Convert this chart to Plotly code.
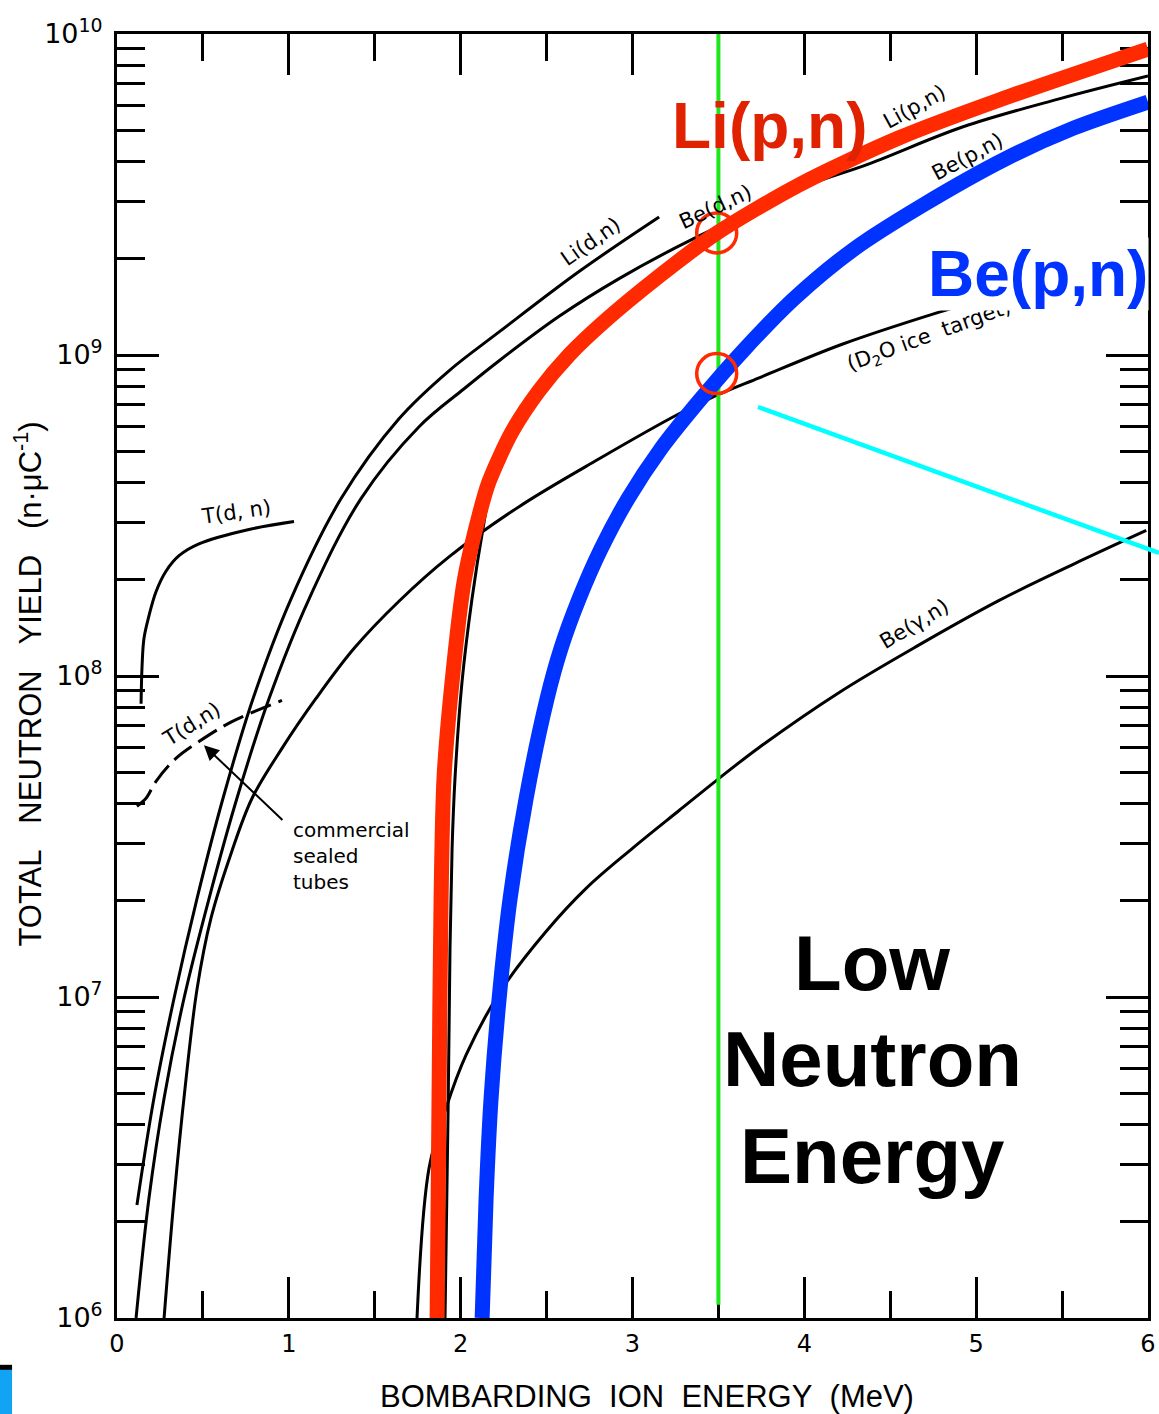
import plotly.graph_objects as go

# ---------------- data ----------------
# T(d,n) solid
E_tdn = [0.140, 0.146, 0.157, 0.186, 0.227, 0.285, 0.361, 0.477, 0.768, 1.030]
Y_tdn = [8.2e7, 1.08e8, 1.31e8, 1.54e8, 1.83e8, 2.12e8, 2.37e8, 2.58e8, 2.86e8, 3.03e8]

# T(d,n) commercial sealed tubes (dashed)
E_tube = [0.116, 0.169, 0.227, 0.343, 0.477, 0.669, 0.960]
Y_tube = [3.93e7, 4.16e7, 4.70e7, 5.54e7, 6.25e7, 7.21e7, 8.39e7]

# Li(d,n)
E_lidn = [0.116, 0.215, 0.332, 0.466, 0.617, 0.792, 1.013, 1.304, 1.641, 1.932, 2.224, 2.689, 3.155]
Y_lidn = [2.25e6, 4.84e6, 9.91e6, 2.03e7, 4.16e7, 8.51e7, 1.74e8, 3.57e8, 6.33e8, 8.93e8, 1.18e9, 1.82e9, 2.69e9]

# Be(d,n)
E_bedn = [0.111, 0.186, 0.274, 0.390, 0.536, 0.698, 0.885, 1.118, 1.420, 1.758, 2.020, 2.224, 2.573, 2.922, 3.353, 3.737]
Y_bedn = [1.0e6, 2.36e6, 4.84e6, 9.91e6, 2.03e7, 4.16e7, 8.51e7, 1.74e8, 3.57e8, 5.98e8, 7.85e8, 9.60e8, 1.32e9, 1.73e9, 2.30e9, 2.85e9]

# D(d,n) - D2O ice target
E_d2o = [0.274, 0.332, 0.396, 0.466, 0.547, 0.664, 0.786, 0.960, 1.158, 1.380, 1.641, 1.932, 2.340, 2.806, 3.271, 3.498, 3.737, 4.220, 4.785, 5.198]
Y_d2o = [1.0e6, 2.36e6, 5.20e6, 1.06e7, 1.76e7, 2.80e7, 4.16e7, 5.95e7, 8.51e7, 1.22e8, 1.71e8, 2.35e8, 3.37e8, 4.75e8, 6.56e8, 7.52e8, 8.49e8, 1.08e9, 1.36e9, 1.58e9]

# Li(p,n) original black curve
E_lipn = [1.909, 1.927, 1.938, 1.950, 1.967, 2.008, 2.066, 2.130, 2.183, 2.299, 2.456, 2.631, 2.835, 3.155, 3.487, 3.970, 4.377, 4.924, 5.483, 6.0]
Y_lipn = [1e6, 4.51e6, 1.42e7, 2.90e7, 4.80e7, 9.6e7, 1.74e8, 2.88e8, 4.03e8, 5.77e8, 7.74e8, 1.00e9, 1.27e9, 1.76e9, 2.39e9, 3.30e9, 3.94e9, 5.14e9, 6.28e9, 7.4e9]

# Be(gamma,n)
E_begn = [1.746, 1.816, 1.915, 2.031, 2.241, 2.497, 2.730, 2.998, 3.271, 3.504, 3.737, 4.203, 4.668, 5.134, 5.559, 5.99]
Y_begn = [1.0e6, 2.93e6, 4.51e6, 6.59e6, 1.06e7, 1.60e7, 2.18e7, 2.90e7, 3.81e7, 4.80e7, 5.99e7, 8.89e7, 1.25e8, 1.72e8, 2.22e8, 2.84e8]

# Highlighted Li(p,n) (red)
E_red = [1.863, 1.874, 1.886, 1.903, 1.950, 2.020, 2.107, 2.165, 2.299, 2.456, 2.631, 2.835, 3.155, 3.487, 3.970, 4.552, 5.134, 6.0]
Y_red = [1e6, 4.84e6, 2.03e7, 4.8e7, 9.6e7, 1.97e8, 3.16e8, 4.03e8, 5.77e8, 7.74e8, 1.00e9, 1.27e9, 1.76e9, 2.39e9, 3.39e9, 4.75e9, 6.23e9, 8.98e9]

# Highlighted Be(p,n) (blue)
E_blue = [2.125, 2.148, 2.177, 2.224, 2.288, 2.381, 2.503, 2.584, 2.689, 2.817, 2.974, 3.166, 3.399, 3.650, 3.941, 4.290, 4.680, 5.169, 5.570, 6.0]
Y_blue = [1e6, 2.36e6, 4.84e6, 9.91e6, 2.03e7, 4.16e7, 8.51e7, 1.22e8, 1.74e8, 2.49e8, 3.57e8, 5.11e8, 7.31e8, 1.04e9, 1.50e9, 2.14e9, 2.91e9, 4.08e9, 5.10e9, 6.14e9]

# 3.5 MeV marker line and the two highlighted points
E_mark = [3.5, 3.5]
Y_mark = [1.1e6, 1e10]
E_circ = [3.49, 3.49]
Y_circ = [2.40e9, 8.75e8]

x_ticks = [0, 1, 2, 3, 4, 5, 6]
y_ticks = [1e6, 1e7, 1e8, 1e9, 1e10]
y_ticktext = ["10<sup>6</sup>", "10<sup>7</sup>", "10<sup>8</sup>", "10<sup>9</sup>", "10<sup>10</sup>"]
y_minor = [m * 10 ** d for d in range(6, 10) for m in range(2, 10)]

# curve labels: text, E, log10(Y), angle
curve_labels = [
    ("T(d, n)", 0.693, 8.512, -8),
    ("T(d,n)", 0.437, 7.849, -32),
    ("Li(d,n)", 2.753, 9.353, -35),
    ("Be(d,n)", 3.481, 9.461, -25),
    ("Li(p,n)", 4.639, 9.773, -29),
    ("Be(p,n)", 4.948, 9.617, -28),
    ("(D<sub>2</sub>O ice  target)", 4.727, 9.060, -20),
    ("Be(γ,n)", 4.639, 8.163, -31),
]

BLACK = "black"
RED = "#FF2A00"
BLUE = "#0033FF"
GREEN = "#1EE61E"
SMALL = dict(family="DejaVu Sans", size=21, color=BLACK)
NB = "\u00a0"

fig = go.Figure()

def black_curve(E, Y, dash="solid"):
    fig.add_trace(go.Scatter(x=E, y=Y, mode="lines",
                             line=dict(color=BLACK, width=3, shape="spline", smoothing=1.0, dash=dash),
                             hoverinfo="skip"))

black_curve(E_tdn, Y_tdn)
black_curve(E_tube, Y_tube, dash="22px,8px")
black_curve(E_lidn, Y_lidn)
black_curve(E_bedn, Y_bedn)
black_curve(E_d2o, Y_d2o)
black_curve(E_lipn, Y_lipn)
black_curve(E_begn, Y_begn)

fig.add_trace(go.Scatter(x=E_mark, y=Y_mark, mode="lines",
                         line=dict(color=GREEN, width=4), hoverinfo="skip"))
fig.add_trace(go.Scatter(x=E_red, y=Y_red, mode="lines",
                         line=dict(color=RED, width=15, shape="spline", smoothing=0.8), hoverinfo="skip"))
fig.add_trace(go.Scatter(x=E_blue, y=Y_blue, mode="lines",
                         line=dict(color=BLUE, width=15, shape="spline", smoothing=0.8), hoverinfo="skip"))
fig.add_trace(go.Scatter(x=E_circ, y=Y_circ, mode="markers",
                         marker=dict(symbol="circle-open", size=40, color=RED, line=dict(width=3.5, color=RED)),
                         hoverinfo="skip"))

annotations = []
for txt, ex, ly, ang in curve_labels:
    annotations.append(dict(x=ex, y=ly, xref="x", yref="y", text=txt, showarrow=False,
                            textangle=ang, font=SMALL))

# commercial sealed tubes note + arrow
annotations.append(dict(x=1.013, y=7.563, xref="x", yref="y", text="commercial<br>sealed<br>tubes",
                        showarrow=False, xanchor="left", yanchor="top", align="left",
                        font=dict(family="DejaVu Sans", size=20, color=BLACK)))
annotations.append(dict(x=0.506, y=7.784, xref="x", yref="y", text="", showarrow=True,
                        ax=80, ay=76, arrowhead=2, arrowsize=1.5, arrowwidth=2, arrowcolor=BLACK))

# big coloured labels
annotations.append(dict(x=3.795, y=9.714, xref="x", yref="y", text="<b>Li(p,n)</b>", showarrow=False,
                        font=dict(family="Liberation Sans", size=64, color="#E02200")))
annotations.append(dict(x=5.36, y=9.253, xref="x", yref="y", text="<b>Be(p,n)</b>", showarrow=False,
                        bgcolor="white", borderpad=0,
                        font=dict(family="Liberation Sans", size=64, color=BLUE)))
for txt, ly in [("Low", 7.106), ("Neutron", 6.808), ("Energy", 6.506)]:
    annotations.append(dict(x=4.395, y=ly, xref="x", yref="y", text="<b>" + txt + "</b>", showarrow=False,
                            font=dict(family="Liberation Sans", size=78, color=BLACK)))

# axis titles
annotations.append(dict(x=0.514, y=-0.0615, xref="paper", yref="paper", xanchor="center", yanchor="middle",
                        text=f"BOMBARDING{NB}{NB}ION{NB}{NB}ENERGY{NB}{NB}(MeV)",
                        showarrow=False, font=dict(family="Liberation Sans", size=31, color=BLACK)))
annotations.append(dict(x=-0.0865, y=0.494, xref="paper", yref="paper", xanchor="center", yanchor="middle",
                        text=f"TOTAL{NB*3}NEUTRON{NB*3}YIELD{NB*3}(n·μC<sup>-1</sup>)",
                        textangle=-90, showarrow=False, font=dict(family="Liberation Sans", size=31, color=BLACK)))

shapes = [
    dict(type="line", xref="paper", yref="paper", x0=0.6217, y0=0.7095, x1=1.0107, y1=0.5958,
         line=dict(color="#00FFFF", width=4.5)),
    dict(type="rect", xref="paper", yref="paper", x0=-0.1135, x1=-0.1018, y0=-0.0748, y1=-0.0374,
         fillcolor="#12A4F4", line=dict(width=0)),
    dict(type="line", xref="paper", yref="paper", x0=-0.1135, x1=-0.1018, y0=-0.0384, y1=-0.0384,
         line=dict(color="black", width=5)),
]

fig.update_layout(
    width=1159, height=1414, autosize=False,
    margin=dict(l=117, r=11, t=34, b=96, pad=0),
    showlegend=False,
    plot_bgcolor="white", paper_bgcolor="white",
    annotations=annotations, shapes=shapes,
    xaxis=dict(range=[0, 6], tickvals=x_ticks, ticks="inside", ticklen=41, tickwidth=2.5,
               tickcolor=BLACK, showline=True, linewidth=3, linecolor=BLACK, mirror="allticks",
               showgrid=False, zeroline=False, ticklabelstandoff=2, automargin=False,
               layer="below traces",
               tickfont=dict(family="DejaVu Sans", size=24, color=BLACK),
               minor=dict(ticks="inside", ticklen=27, tickwidth=2.5, tickcolor=BLACK, dtick=0.5, showgrid=False)),
    yaxis=dict(type="log", range=[6, 10], tickmode="array", tickvals=y_ticks, ticktext=y_ticktext,
               ticks="inside", ticklen=42, tickwidth=2.5, tickcolor=BLACK,
               showline=True, linewidth=3, linecolor=BLACK, mirror="allticks",
               showgrid=False, zeroline=False, ticklabelstandoff=6, automargin=False,
               layer="below traces",
               tickfont=dict(family="DejaVu Sans", size=27, color=BLACK),
               minor=dict(tickmode="array", tickvals=y_minor, ticks="inside", ticklen=28,
                          tickwidth=2.5, tickcolor=BLACK, showgrid=False)),
)

fig.write_html("out.html", config={"responsive": False})
